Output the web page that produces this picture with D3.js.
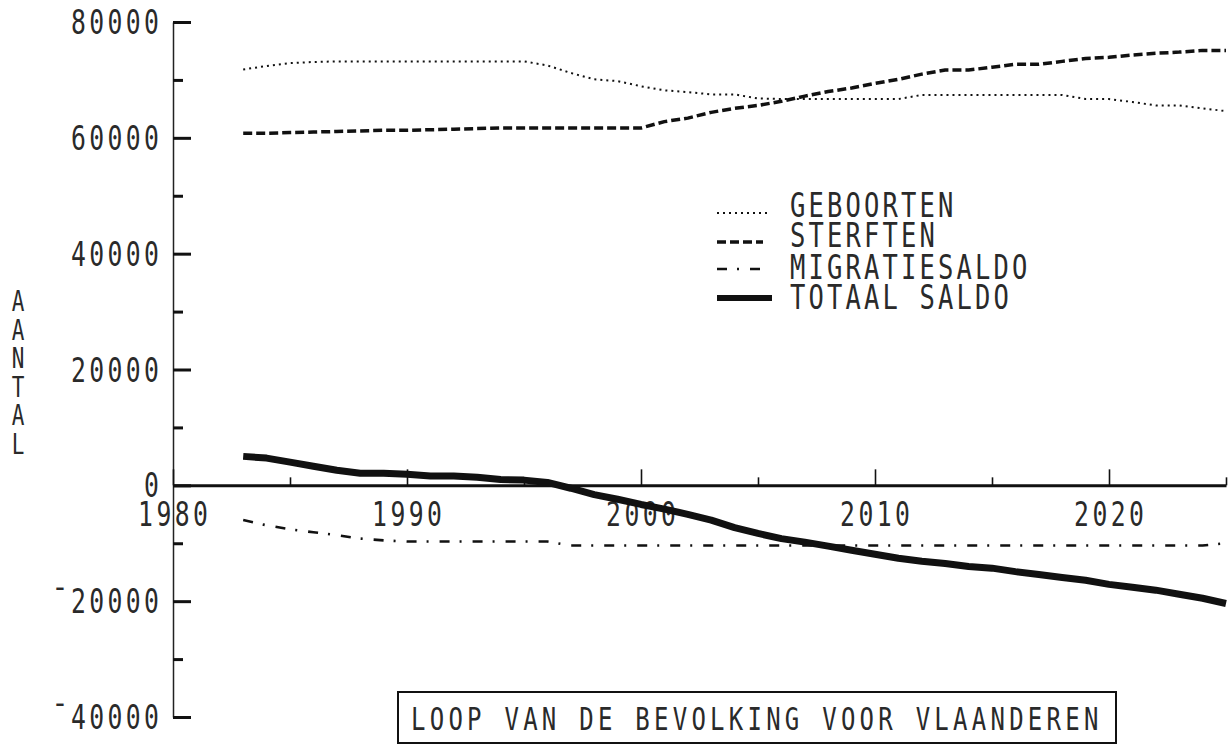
<!DOCTYPE html>
<html>
<head>
<meta charset="utf-8">
<script src="https://cdn.jsdelivr.net/npm/d3@7/dist/d3.min.js"></script>
<style>
  html, body { margin: 0; padding: 0; background: #ffffff; }
  svg { display: block; }
</style>
</head>
<body>
<svg id="chart" width="1228" height="746"></svg>
<script>
// ---------- DATA ----------
const years = [1983,1984,1985,1986,1987,1988,1989,1990,1991,1992,1993,1994,1995,1996,1997,1998,1999,
  2000,2001,2002,2003,2004,2005,2006,2007,2008,2009,2010,2011,2012,2013,2014,2015,2016,2017,2018,2019,
  2020,2021,2022,2023,2024,2025];

const geboorten = [71800,72400,72900,73100,73200,73200,73200,73200,73200,73200,73200,73200,73200,72500,71200,70100,69800,
  68900,68200,67900,67500,67500,66800,66700,66700,66700,66700,66700,66700,67400,67400,67400,67400,67400,67400,67400,66700,
  66700,66200,65600,65600,65100,64600];

const sterften = [60800,60800,60900,61000,61100,61200,61300,61300,61400,61500,61600,61700,61700,61700,61700,61700,61700,
  61700,62800,63400,64400,65100,65600,66300,67200,68000,68600,69400,70100,71000,71700,71700,72200,72700,72700,73200,73700,
  73900,74300,74600,74800,75100,75100];

const migratiesaldo = [-6000,-6900,-7600,-8100,-8600,-9200,-9500,-9700,-9700,-9700,-9700,-9700,-9700,-9700,-10400,-10400,-10400,
  -10400,-10400,-10400,-10400,-10400,-10400,-10400,-10400,-10400,-10400,-10400,-10400,-10400,-10400,-10400,-10400,-10400,-10400,-10400,-10400,
  -10400,-10400,-10400,-10400,-10400,-10000];

const totaalSaldo = [5000,4700,4000,3300,2600,2100,2100,1900,1600,1600,1400,1000,900,500,-500,-1600,-2400,
  -3300,-4100,-5000,-6000,-7300,-8300,-9200,-9800,-10500,-11200,-11900,-12600,-13100,-13500,-14000,-14300,-14900,-15400,-15900,-16400,
  -17100,-17600,-18100,-18800,-19500,-20400];

const yMajorTicks = [80000,60000,40000,20000,0,-20000,-40000];
const yMinorTicks = [70000,50000,30000,10000,-10000,-30000];
const yTickLabels = ["80000","60000","40000","20000","0","\u00AF20000","\u00AF40000"];
const xMajorTicks = [1980,1990,2000,2010,2020];
const xMinorTicks = [1985,1995,2005,2015,2025];
const xTickLabels = ["1980","1990","2000","2010","2020"];
const seriesNames = ["GEBOORTEN","STERFTEN","MIGRATIESALDO","TOTAAL SALDO"];
const yTitle = "AANTAL";
const chartTitle = "LOOP VAN DE BEVOLKING VOOR VLAANDEREN";

// ---------- SETUP ----------
const svg = d3.select("#chart");
const INK = "#111";
const TEXT_INK = "#2a2a2a";
const FONT = "'DejaVu Sans Mono', 'Liberation Mono', monospace";
const FS = 33, SX = 0.75;

const x = d3.scaleLinear().domain([1980, 2025]).range([173, 1226]);
const y = d3.scaleLinear().domain([-40000, 80000]).range([717, 22]);

// plotter-like text: condensed monospace with wide spacing
function plotText(str, px, py, anchor, pitch, fs) {
  fs = fs || FS;
  const adv = 0.602 * fs * SX;
  const gap = pitch - adv;
  const ls = gap / SX;
  const w = str.length * pitch - gap;
  let x0 = px;
  if (anchor === "middle") x0 = px - w / 2;
  else if (anchor === "end") x0 = px - w;
  svg.append("text")
    .attr("transform", `translate(${x0},${py}) scale(${SX},1)`)
    .attr("x", 0).attr("y", 0)
    .style("font-family", FONT)
    .style("font-size", fs + "px")
    .style("letter-spacing", ls + "px")
    .style("fill", TEXT_INK)
    .style("white-space", "pre")
    .text(str);
}

// ---------- AXES ----------
const yAxisMajor = d3.axisRight(y).tickValues(yMajorTicks).tickSize(18).tickSizeOuter(0).tickFormat("");
const yAxisMinor = d3.axisRight(y).tickValues(yMinorTicks).tickSize(10).tickSizeOuter(0).tickFormat("");
const gy1 = svg.append("g").attr("transform", `translate(${x(1980)},0)`).call(yAxisMajor);
const gy2 = svg.append("g").attr("transform", `translate(${x(1980)},0)`).call(yAxisMinor);
gy2.select(".domain").remove();
gy1.select(".domain").attr("stroke", "#222").attr("stroke-width", 1.5);
svg.selectAll(".tick line").attr("stroke", INK).attr("stroke-width", 3);

const xAxisMajor = d3.axisTop(x).tickValues(xMajorTicks).tickSize(16).tickSizeOuter(0).tickFormat("");
const xAxisMinor = d3.axisTop(x).tickValues(xMinorTicks).tickSize(8).tickSizeOuter(0).tickFormat("");
const gx1 = svg.append("g").attr("transform", `translate(0,${y(0)})`).call(xAxisMajor);
const gx2 = svg.append("g").attr("transform", `translate(0,${y(0)})`).call(xAxisMinor);
gx2.select(".domain").remove();
gx1.select(".domain").attr("stroke", INK).attr("stroke-width", 3);
gx1.selectAll(".tick line").attr("stroke", INK).attr("stroke-width", 1.6);
gx2.selectAll(".tick line").attr("stroke", INK).attr("stroke-width", 1.6);

// y tick labels
yMajorTicks.forEach((v, i) => {
  plotText(yTickLabels[i], 159, y(v) + 12, "end", 18.3);
});
// x tick labels
xMajorTicks.forEach((v, i) => {
  plotText(xTickLabels[i], x(v), 526, "middle", 18.3);
});

// vertical axis title, letters stacked
yTitle.split("").forEach((ch, i) => {
  plotText(ch, 18, 311 + i * 28.5, "middle", 18, 28);
});

// ---------- SERIES ----------
const styles = [
  { data: geboorten, width: 2, dash: "2,4" },
  { data: sterften, width: 3.5, dash: "9,4" },
  { data: migratiesaldo, width: 2.6, dash: "10,10,2,11" },
  { data: totaalSaldo, width: 7, dash: null }
];
const line = d3.line().x((d, i) => x(years[i])).y(d => y(d));

styles.forEach(s => {
  const p = svg.append("path")
    .datum(s.data)
    .attr("d", line)
    .attr("fill", "none")
    .attr("stroke", INK)
    .attr("stroke-width", s.width)
    .attr("stroke-linejoin", "round");
  if (s.dash) p.attr("stroke-dasharray", s.dash);
});

// ---------- LEGEND ----------
const legRows = [
  { ly: 213, ty: 217, x2: 768 },
  { ly: 242, ty: 247, x2: 763 },
  { ly: 269, ty: 279, x2: 763 },
  { ly: 298, ty: 309, x2: 772 }
];
seriesNames.forEach((name, i) => {
  const r = legRows[i], s = styles[i];
  const l = svg.append("line")
    .attr("x1", 717).attr("x2", r.x2)
    .attr("y1", r.ly).attr("y2", r.ly)
    .attr("stroke", INK)
    .attr("stroke-width", s.width === 7 ? 6 : s.width);
  if (s.dash) l.attr("stroke-dasharray", s.dash);
  plotText(name, 790, r.ty, "start", 18.5, 34);
});

// ---------- TITLE BOX ----------
svg.append("rect")
  .attr("x", 398).attr("y", 692)
  .attr("width", 1116 - 398).attr("height", 743 - 692)
  .attr("fill", "none").attr("stroke", INK).attr("stroke-width", 2);
plotText(chartTitle, 411, 730, "start", 18.7, 32);
</script>
</body>
</html>
